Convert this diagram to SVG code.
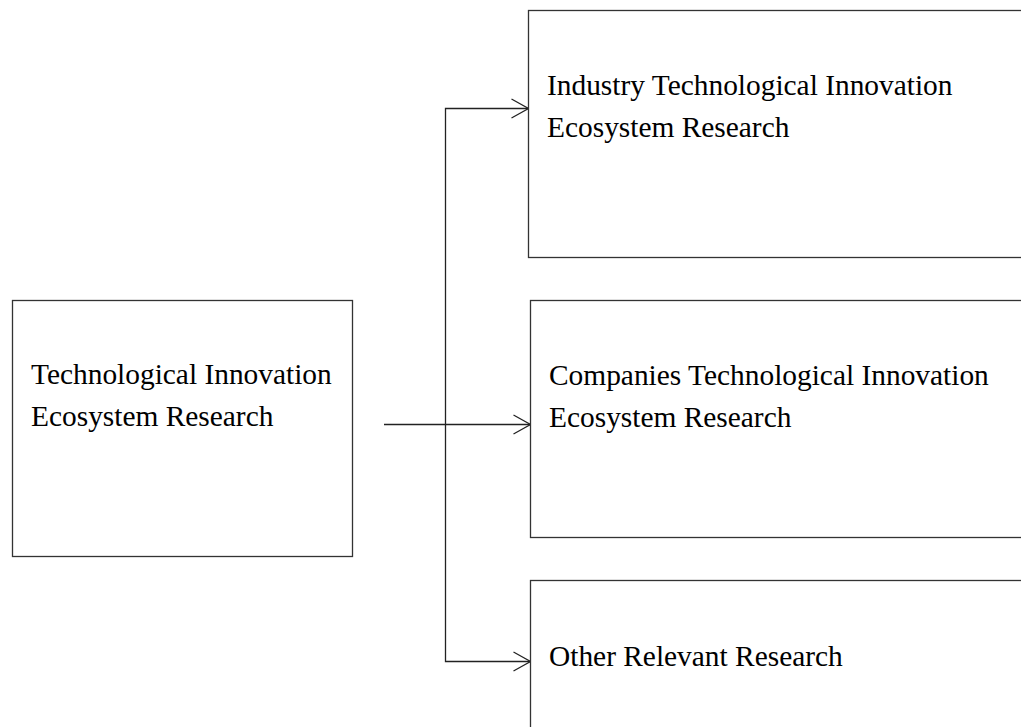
<svg xmlns="http://www.w3.org/2000/svg" width="1021" height="727" viewBox="0 0 1021 727">
<style>
.box{fill:#fff;stroke:#333;stroke-width:1.3}
.lbl{font-family:"Liberation Serif","Times New Roman",serif;font-size:29.4px;fill:#000}
.conn{fill:none;stroke:#222;stroke-width:1.3}
</style>
<defs>
<marker id="arr" markerUnits="userSpaceOnUse" markerWidth="20" markerHeight="22" viewBox="0 0 20 22" refX="18" refY="11" orient="auto">
<path d="M1,1.5 L18,11 L1,20.5" fill="none" stroke="#222" stroke-width="1.3"/>
</marker>
</defs>
<rect width="1021" height="727" fill="#fff"/>
<g id="connectors">
<path class="conn" d="M384,424.5 H530.5" marker-end="url(#arr)"/>
<path class="conn" d="M445.5,424.5 V108.5 H528.5" marker-end="url(#arr)"/>
<path class="conn" d="M445.5,424.5 V661.5 H530.5" marker-end="url(#arr)"/>
</g>
<g id="node-root">
<rect class="box" x="12.5" y="300.5" width="340" height="256"/>
<text class="lbl" x="31" y="384">Technological Innovation</text>
<text class="lbl" x="31" y="426">Ecosystem Research</text>
</g>
<g id="node-industry">
<rect class="box" x="528.5" y="10.5" width="510" height="247"/>
<text class="lbl" x="547" y="95">Industry Technological Innovation</text>
<text class="lbl" x="547" y="137">Ecosystem Research</text>
</g>
<g id="node-companies">
<rect class="box" x="530.5" y="300.5" width="510" height="237"/>
<text class="lbl" x="549" y="385">Companies Technological Innovation</text>
<text class="lbl" x="549" y="427">Ecosystem Research</text>
</g>
<g id="node-other">
<rect class="box" x="530.5" y="580.5" width="510" height="170"/>
<text class="lbl" x="549" y="666">Other Relevant Research</text>
</g>
</svg>
